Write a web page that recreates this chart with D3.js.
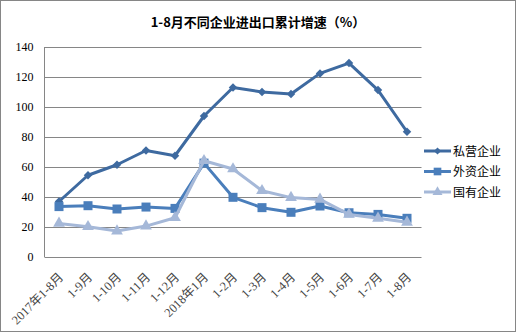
<!DOCTYPE html>
<html><head><meta charset="utf-8">
<script src="https://cdn.jsdelivr.net/npm/d3@7/dist/d3.min.js"></script>
<style>body{margin:0;background:#fff}svg{display:block}</style>
</head><body>
<script>
const categories = ["2017年1-8月","1-9月","1-10月","1-11月","1-12月","2018年1月","1-2月","1-3月","1-4月","1-5月","1-6月","1-7月","1-8月"];
const privateVals = [37, 54.5, 61.5, 71, 67.5, 94, 113, 110, 108.7, 122.4, 129.3, 111.3, 83.5];
const foreignVals = [33.6, 34.2, 32, 33.3, 32.4, 62.6, 39.8, 32.9, 29.8, 34, 29.5, 28.4, 25.8];
const stateVals = [22.4, 20.2, 17.3, 20.6, 26.2, 64.2, 58.7, 44.2, 39.6, 38.4, 28.4, 25.8, 23.1];
const seriesNames = ["私营企业","外资企业","国有企业"];
const yTicks = [0,20,40,60,80,100,120,140];
const title = "1-8月不同企业进出口累计增速（%）";

const W=517,H=333;
const svg=d3.select("body").append("svg").attr("width",W).attr("height",H);
svg.append("rect").attr("x",0.5).attr("y",0.5).attr("width",W-2).attr("height",H-2).attr("fill","#fff").attr("stroke","#868686");

const L=44.5,R=421.5,T=47,B=257;
const x=d3.scaleBand().domain(categories).range([L,R]);
const y=d3.scaleLinear().domain([0,140]).range([B,T]);

svg.append("text").attr("x",258).attr("y",27).attr("text-anchor","middle")
  .attr("font-family","'Noto Sans CJK SC'").attr("font-weight","bold").attr("font-size",13).text(title);

// grid
svg.append("g").selectAll("line").data(yTicks).join("line")
  .attr("x1",L).attr("x2",R).attr("y1",d=>Math.round(y(d))+0.5).attr("y2",d=>Math.round(y(d))+0.5)
  .attr("stroke","#868686").attr("stroke-width",1);
svg.append("line").attr("x1",L).attr("x2",L).attr("y1",T).attr("y2",B).attr("stroke","#868686");

const yAxis=svg.append("g").attr("transform",`translate(${L},0)`)
  .call(d3.axisLeft(y).tickValues(yTicks).tickSize(0).tickPadding(11));
yAxis.select(".domain").remove();
yAxis.selectAll("text").attr("font-family","'Liberation Serif'").attr("font-size",12).attr("fill","#000");

const xAxis=svg.append("g").attr("transform",`translate(0,${B})`)
  .call(d3.axisBottom(x).tickSize(0).tickPadding(0));
xAxis.select(".domain").remove();
xAxis.selectAll("text").attr("font-family","'Liberation Serif','Noto Sans CJK SC'")
  .attr("font-size",12.5).attr("fill","#444").attr("text-anchor","end")
  .attr("dy",0).attr("transform","translate(5,21) rotate(-45)")
  .attr("x",0).attr("y",0);

const series=[
 {name:seriesNames[0],vals:privateVals,color:"#3e6aa0",shape:"diamond"},
 {name:seriesNames[1],vals:foreignVals,color:"#4a7ebb",shape:"square"},
 {name:seriesNames[2],vals:stateVals,color:"#a5b8d8",shape:"triangle"}
];
const cx=(d,i)=>x(categories[i])+x.bandwidth()/2;

function drawMarker(g,shape,color,k){
  if(shape==="diamond"){
    g.append("rect").attr("x",-3*k).attr("y",-3*k).attr("width",6*k).attr("height",6*k).attr("transform","rotate(45)").attr("fill",color);
  } else if(shape==="square"){
    g.append("rect").attr("x",-4.5*k).attr("y",-4.5*k).attr("width",9*k).attr("height",9*k).attr("fill",color);
  } else {
    g.append("path").attr("d",d3.symbol().type(d3.symbolTriangle).size(60*k*k)()).attr("fill",color);
  }
}
series.forEach(s=>{
  const line=d3.line().x((d,i)=>cx(d,i)).y(d=>y(d));
  svg.append("path").datum(s.vals).attr("d",line).attr("fill","none").attr("stroke",s.color).attr("stroke-width",3).attr("stroke-linejoin","round");
  s.vals.forEach((v,i)=>{
    const g=svg.append("g").attr("transform",`translate(${cx(v,i)},${y(v)})`);
    drawMarker(g,s.shape,s.color,1);
  });
});

// legend
series.forEach((s,i)=>{
  const ly=151+i*20.5;
  svg.append("line").attr("x1",424).attr("x2",451).attr("y1",ly).attr("y2",ly).attr("stroke",s.color).attr("stroke-width",3);
  const g=svg.append("g").attr("transform",`translate(437.5,${ly})`);
  drawMarker(g,s.shape,s.color,0.85);
  svg.append("text").attr("x",453).attr("y",ly+4.5).attr("font-family","'Noto Sans CJK SC'").attr("font-size",12).text(s.name);
});
</script>
</body></html>
